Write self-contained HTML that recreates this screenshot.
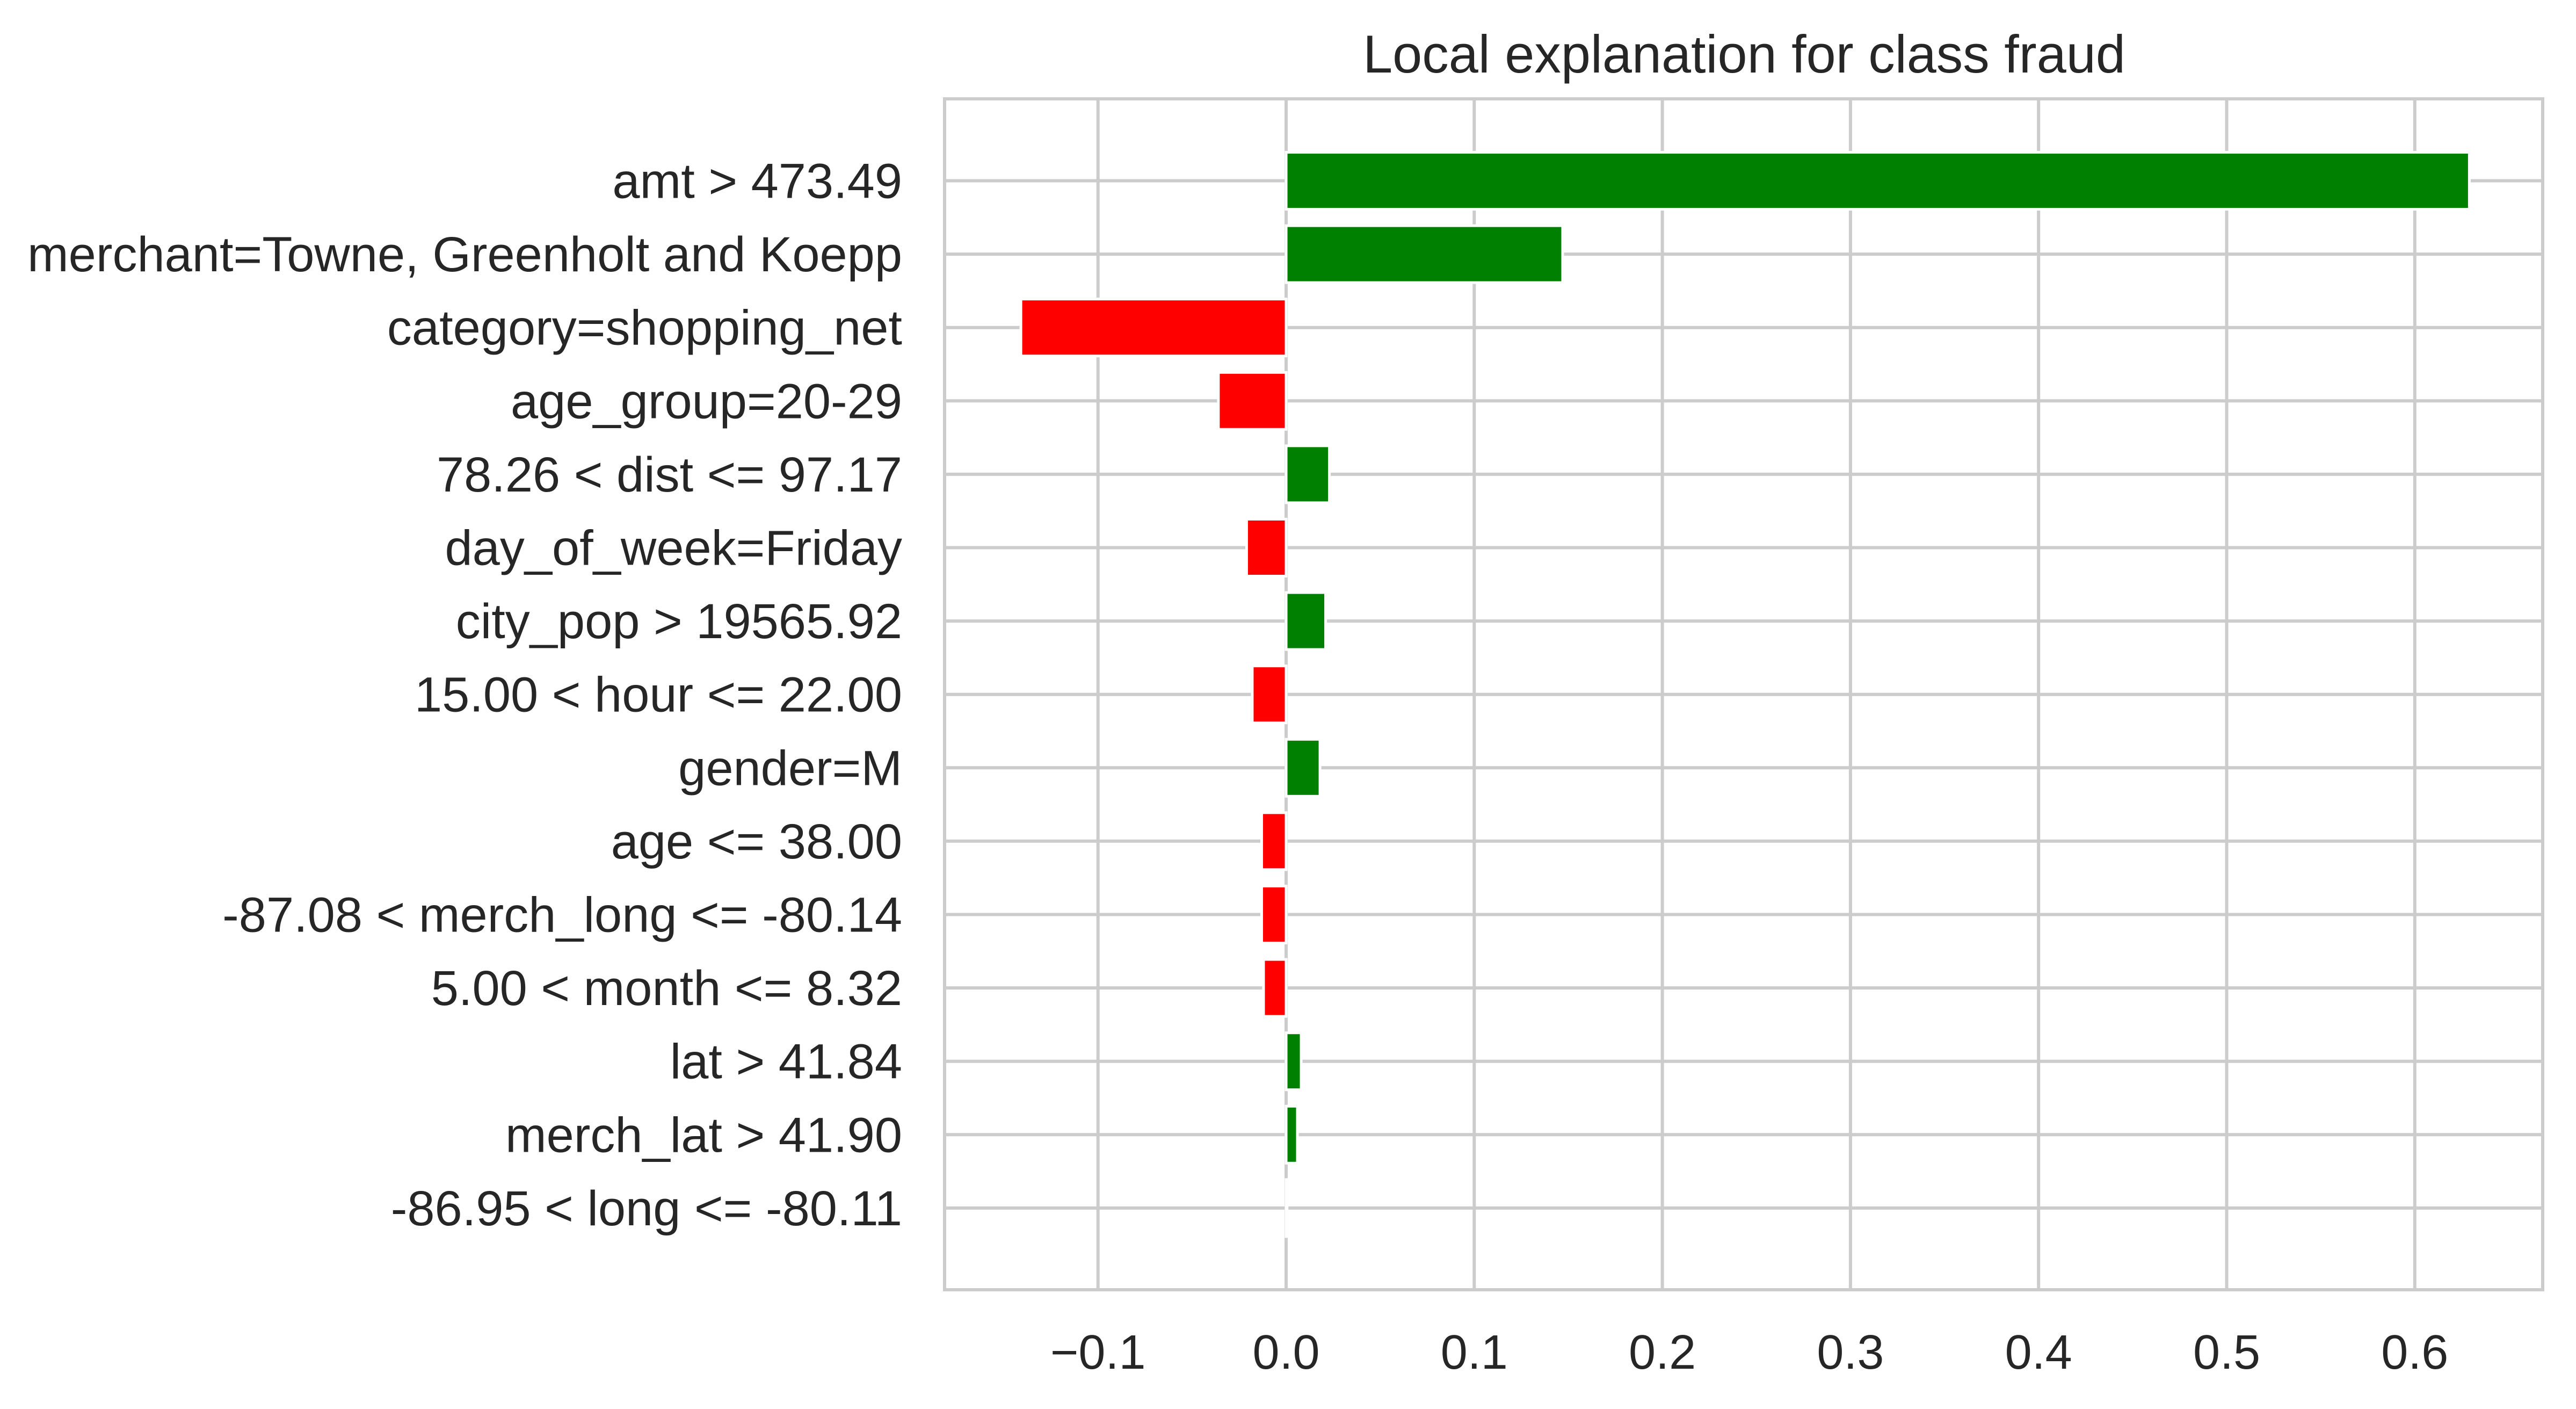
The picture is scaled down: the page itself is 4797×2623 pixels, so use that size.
<!DOCTYPE html>
<html>
<head>
<meta charset="utf-8">
<style>
html,body{margin:0;padding:0;background:#fff;}
svg{display:block;}
text{font-family:"Liberation Sans","DejaVu Sans",sans-serif;fill:#262626;}
</style>
</head>
<body>
<svg id="chart" width="4797" height="2623" viewBox="0 0 4797 2623">
<rect x="0" y="0" width="4797" height="2623" fill="#fff"/>
<g id="grid"></g>
<g id="bars"></g>
<g id="ylabels"></g>
<g id="xlabels"></g>
<rect x="1759" y="184" width="2976" height="2217" fill="none" stroke="#cccccc" stroke-width="6"/>
<text x="3248" y="135" font-size="99" text-anchor="middle">Local explanation for class fraud</text>
</svg>
<script>
const features = ["amt > 473.49","merchant=Towne, Greenholt and Koepp","category=shopping_net","age_group=20-29","78.26 < dist <= 97.17","day_of_week=Friday","city_pop > 19565.92","15.00 < hour <= 22.00","gender=M","age <= 38.00","-87.08 < merch_long <= -80.14","5.00 < month <= 8.32","lat > 41.84","merch_lat > 41.90","-86.95 < long <= -80.11"];
const weights = [0.629,0.147,-0.141,-0.036,0.023,-0.021,0.021,-0.018,0.018,-0.013,-0.013,-0.012,0.008,0.006,0.0005];
const xTicks = [-0.1,0.0,0.1,0.2,0.3,0.4,0.5,0.6];
const xTickLabels = ["\u22120.1","0.0","0.1","0.2","0.3","0.4","0.5","0.6"];

const NS="http://www.w3.org/2000/svg";
const plotL=1759,plotR=4735,plotT=184,plotB=2401;
function xs(v){return 2395+v*3503;}
const rowStep=136.6, row0=336.5;
function ys(i){return row0+i*rowStep;}
const barH=106;
function mk(tag,attrs,parent){const e=document.createElementNS(NS,tag);for(const k in attrs)e.setAttribute(k,attrs[k]);parent.appendChild(e);return e;}
const grid=document.getElementById('grid'),bars=document.getElementById('bars'),yl=document.getElementById('ylabels'),xl=document.getElementById('xlabels');
xTicks.forEach((t,i)=>{
  const l=mk('line',{x1:xs(t),x2:xs(t),y1:plotT,y2:plotB,stroke:'#cccccc','stroke-width':6},grid);
  
  
  const tx=mk('text',{x:xs(t),y:2548,'font-size':90,'text-anchor':'middle'},xl);
  tx.textContent=xTickLabels[i];
  
  
});
features.forEach((f,i)=>{
  const l=mk('line',{x1:plotL,x2:plotR,y1:ys(i),y2:ys(i),stroke:'#cccccc','stroke-width':6},grid);
  
  
  const v=weights[i];
  const x0=Math.min(xs(0),xs(v)),w=Math.abs(xs(v)-xs(0));
  const r=mk('rect',{x:x0,y:ys(i)-barH/2,width:w,height:barH,fill:v>=0?'#008000':'#ff0000',stroke:'#ffffff','stroke-width':5},bars);
  
  
  const t=mk('text',{x:1680,y:ys(i)+32,'font-size':92,'text-anchor':'end'},yl);
  t.textContent=f;
  
  
});
</script>
</body>
</html>
